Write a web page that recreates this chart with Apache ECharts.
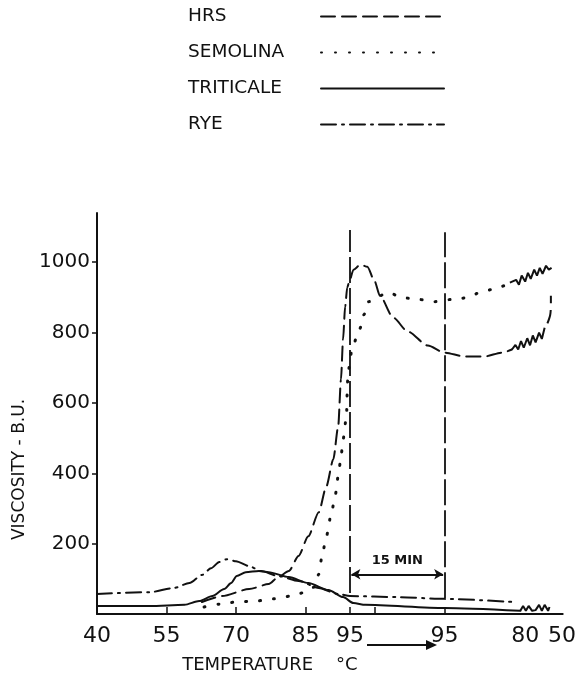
<!DOCTYPE html>
<html>
<head>
<meta charset="utf-8">
<script src="https://cdn.jsdelivr.net/npm/echarts@6/dist/echarts.min.js"></script>
<style>
  html, body { margin: 0; padding: 0; background: #fff; }
  #chart { width: 579px; height: 688px; }
</style>
</head>
<body>
<div id="chart"></div>
<script>
// x = minutes from start of run (40 C), y = viscosity in B.U.
const hrs = [[15.1, 34], [18.0, 51], [21.9, 71], [24.7, 85], [26.1, 105], [27.6, 122], [29.0, 165],
  [30.4, 221], [31.9, 289], [33.0, 363], [34.0, 440], [34.7, 533], [35.1, 667], [35.4, 780],
  [35.7, 874], [36.0, 928], [36.3, 945], [36.9, 979], [37.9, 993], [38.9, 987], [39.9, 948],
  [40.7, 905], [42.6, 843], [44.7, 803], [47.6, 763], [50.0, 743], [52.9, 732], [55.7, 732],
  [58.3, 743], [59.7, 752]]
const hrsWiggle = [[59.7, 752], [60.2, 765], [60.6, 752], [61.0, 776], [61.4, 757], [61.9, 784],
  [62.3, 764], [62.7, 792], [63.1, 772], [63.6, 800], [64.0, 782], [64.4, 814]]
const hrsTail = [[64.8, 826], [65.2, 850], [65.3, 880], [65.3, 905]]

const semolina = [[15.4, 20], [17.6, 28], [20.0, 34], [22.9, 37], [25.4, 43], [27.9, 51], [30.0, 62],
  [31.3, 77], [31.9, 113], [32.4, 167], [33.0, 221], [33.7, 284], [34.3, 340], [34.7, 392],
  [35.1, 445], [35.4, 496], [35.9, 562], [36.0, 630], [36.1, 687], [36.7, 752], [37.4, 789],
  [38.0, 817], [38.4, 851], [39.1, 888], [41.9, 914], [44.0, 899], [46.4, 894], [48.6, 888],
  [50.9, 894], [53.3, 899], [55.1, 914], [57.3, 925], [59.4, 942]]
const semWiggle = [[59.4, 942], [60.3, 950], [60.7, 936], [61.1, 962], [61.6, 945], [62.0, 970],
  [62.4, 953], [62.9, 979], [63.3, 962], [63.7, 984], [64.1, 967], [64.6, 990], [65.0, 979], [65.4, 984]]

const triticale = [[0, 23], [7.6, 23], [12.6, 26], [14.7, 37], [16.6, 51], [18.3, 71], [19.3, 88],
  [20.1, 108], [21.4, 119], [23.3, 122], [24.7, 119], [27.6, 105], [30.4, 88], [33.3, 68],
  [35.4, 48], [36.9, 31], [38.6, 26], [50, 17], [60.9, 9]]
const triWiggle = [[60.9, 9], [61.3, 23], [61.7, 9], [62.1, 23], [62.6, 9], [63.1, 11], [63.6, 26],
  [64.0, 9], [64.4, 26], [64.9, 9], [65.1, 20]]

const rye = [[0, 57], [7.6, 62], [11.1, 74], [13.3, 88], [15.1, 111], [16.4, 130], [17.6, 148],
  [18.7, 156], [20.0, 150], [21.9, 136], [23.6, 122], [26.1, 108], [29.0, 94], [31.9, 74],
  [34.7, 57], [36.4, 51], [43.3, 48], [50, 43], [60, 34]]

// x tick labels (temperature) at their run positions
const xLabelPos = [0, 10, 20, 30, 36.4, 50, 61.6, 66.9]
const xLabelText = ['40', '55', '70', '85', '95', '95', '80', '50']
const xTickPos = [0, 10, 20, 30, 36.4, 40, 50]
const yTicks = [200, 400, 600, 800, 1000]

// start / end of the 15 min hold at 95 C
const holdStart = 36.4
const holdEnd = 50

const font = 'DejaVu Sans'
const ink = '#111'

const chart = echarts.init(document.getElementById('chart'))

function curve (name, data, type, width) {
  return {
    name: name,
    type: 'line',
    data: data,
    symbol: 'none',
    smooth: 0.25,
    smoothMonotone: 'x',
    lineStyle: { color: ink, width: width || 2, type: type, cap: 'round' },
    itemStyle: { color: ink },
    z: 3
  }
}

function wiggle (data) {
  return {
    type: 'line',
    data: data,
    symbol: 'none',
    lineStyle: { color: ink, width: 2 },
    z: 3
  }
}

const hrsSeries = curve('HRS', hrs, [14, 7])
hrsSeries.markLine = {
  silent: true,
  symbol: 'none',
  lineStyle: { color: ink, width: 1.8, type: [26, 5] },
  label: { show: false },
  data: [
    [{ coord: [holdStart, 60] }, { coord: [holdStart, 1092] }],
    [{ coord: [holdEnd, 45] }, { coord: [holdEnd, 1085] }]
  ]
}

const holdSeries = {
  type: 'line',
  data: [],
  markLine: {
    silent: true,
    symbol: ['arrow', 'arrow'],
    symbolSize: [8, 9],
    lineStyle: { color: ink, width: 1.8, type: 'solid' },
    label: {
      show: true,
      position: 'middle',
      formatter: '15 MIN',
      color: ink,
      fontFamily: font,
      fontWeight: 'bold',
      fontSize: 13,
      backgroundColor: '#fff',
      padding: [2, 5]
    },
    data: [
      [{ coord: [holdStart + 0.2, 113] }, { coord: [holdEnd - 0.2, 113] }]
    ]
  }
}

chart.setOption({
  animation: false,
  backgroundColor: '#fff',
  grid: { left: 97, right: 13, top: 213, bottom: 74 },
  legend: {
    data: ['HRS', 'SEMOLINA', 'TRITICALE', 'RYE'],
    orient: 'vertical',
    left: 183,
    top: 2,
    align: 'right',
    itemWidth: 123,
    itemHeight: 14,
    itemGap: 17,
    selectedMode: false,
    itemStyle: { opacity: 0 },
    formatter: function (name) { return '{n|' + name + '}' },
    textStyle: {
      color: ink,
      fontFamily: font,
      fontSize: 18.5,
      rich: { n: { width: 128, align: 'left', fontSize: 18.5, fontFamily: font, color: ink } }
    }
  },
  xAxis: {
    type: 'value',
    min: 0,
    max: 67,
    name: 'TEMPERATURE    °C',
    nameLocation: 'middle',
    nameGap: 42,
    nameTextStyle: { color: ink, fontFamily: font, fontSize: 18, padding: [0, 120, 0, 0] },
    axisLine: { lineStyle: { color: ink, width: 2 } },
    axisTick: { inside: true, length: 7, customValues: xTickPos, lineStyle: { color: ink, width: 1.5 } },
    axisLabel: {
      customValues: xLabelPos,
      margin: 11,
      color: ink,
      fontFamily: font,
      fontSize: 22,
      formatter: function (v) {
        const i = xLabelPos.indexOf(v)
        return i >= 0 ? xLabelText[i] : ''
      }
    },
    splitLine: { show: false }
  },
  yAxis: {
    type: 'value',
    min: 0,
    max: 1140,
    name: 'VISCOSITY - B.U.',
    nameLocation: 'middle',
    nameRotate: 90,
    nameGap: 54,
    nameTextStyle: { color: ink, fontFamily: font, fontSize: 17, padding: [0, 112, 0, 0] },
    axisLine: { show: true, lineStyle: { color: ink, width: 2 } },
    axisTick: { show: true, length: 5, customValues: yTicks, lineStyle: { color: ink, width: 1.5 } },
    axisLabel: {
      customValues: yTicks,
      margin: 7,
      color: ink,
      fontFamily: font,
      fontSize: 20,
      formatter: function (v) { return String(v) }
    },
    splitLine: { show: false }
  },
  graphic: [
    {
      type: 'group',
      silent: true,
      children: [
        { type: 'line', shape: { x1: 367, y1: 645, x2: 428, y2: 645 }, style: { stroke: ink, lineWidth: 2 } },
        { type: 'polygon', shape: { points: [[437, 645], [426, 640], [426, 650]] }, style: { fill: ink } }
      ]
    }
  ],
  series: [
    hrsSeries,
    wiggle(hrsWiggle),
    { type: 'line', data: hrsTail, symbol: 'none', smooth: 0.3, lineStyle: { color: ink, width: 2, type: [14, 7] } },
    curve('SEMOLINA', semolina, [1, 13], 3),
    wiggle(semWiggle),
    curve('TRITICALE', triticale, 'solid'),
    wiggle(triWiggle),
    curve('RYE', rye, [15, 6, 2, 6]),
    holdSeries
  ]
})
</script>
</body>
</html>
